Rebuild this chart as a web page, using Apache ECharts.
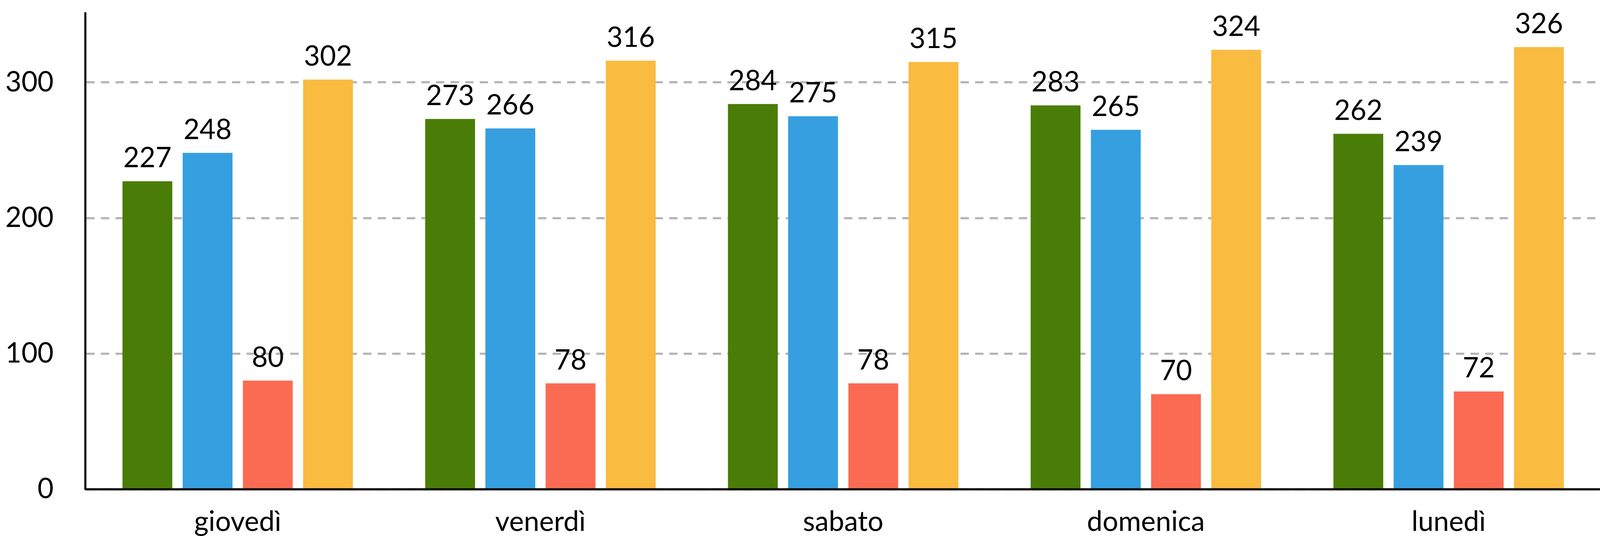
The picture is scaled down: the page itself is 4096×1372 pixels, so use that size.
<!DOCTYPE html>
<html>
<head>
<meta charset="utf-8">
<script src="https://cdn.jsdelivr.net/npm/echarts@6/dist/echarts.min.js"></script>
<style>
html,body{margin:0;padding:0;background:#fff;overflow:hidden;}
#chart{width:4096px;height:1372px;}
</style>
</head>
<body>
<div id="chart"></div>
<script>
var categories = ['giovedì', 'venerdì', 'sabato', 'domenica', 'lunedì'];
var seriesGreen = [227, 273, 284, 283, 262];
var seriesBlue = [248, 266, 275, 265, 239];
var seriesRed = [80, 78, 78, 70, 72];
var seriesYellow = [302, 316, 315, 324, 326];
var seriesColors = ['#4a7d07', '#369fe0', '#fb6b53', '#f9bb40'];

var chart = echarts.init(document.getElementById('chart'), null, {renderer: 'canvas'});
var FONT = 'Lato';
function mk(data, color) {
  return {
    type: 'bar',
    data: data,
    barWidth: 127.6,
    barGap: '20.8%',
    itemStyle: {color: color},
    label: {
      show: true,
      position: 'top',
      distance: 23,
      color: '#000',
      fontFamily: FONT,
      fontSize: 71
    },
    emphasis: {disabled: true}
  };
}
chart.setOption({
  animation: false,
  backgroundColor: '#fff',
  grid: {left: 221, width: 3887, top: 33.7, height: 1221.8, containLabel: false},
  xAxis: {
    type: 'category',
    data: categories,
    axisLine: {show: true, lineStyle: {color: '#000', width: 5.3}},
    axisTick: {show: false},
    axisLabel: {color: '#000', fontFamily: FONT, fontSize: 71, margin: 49},
    splitLine: {show: false},
    z: 3
  },
  yAxis: {
    type: 'value',
    min: 0,
    max: 351,
    interval: 100,
    offset: 2.7,
    axisLine: {show: true, lineStyle: {color: '#000', width: 5.3}},
    axisTick: {show: false},
    axisLabel: {color: '#000', fontFamily: FONT, fontSize: 71, margin: 81, showMaxLabel: false},
    splitLine: {show: true, showMaxLine: false, lineStyle: {color: '#b4b4b4', width: 5.3, type: [21.3, 16]}}
  },
  series: [
    mk(seriesGreen, seriesColors[0]),
    mk(seriesBlue, seriesColors[1]),
    mk(seriesRed, seriesColors[2]),
    mk(seriesYellow, seriesColors[3])
  ]
});
</script>
</body>
</html>
